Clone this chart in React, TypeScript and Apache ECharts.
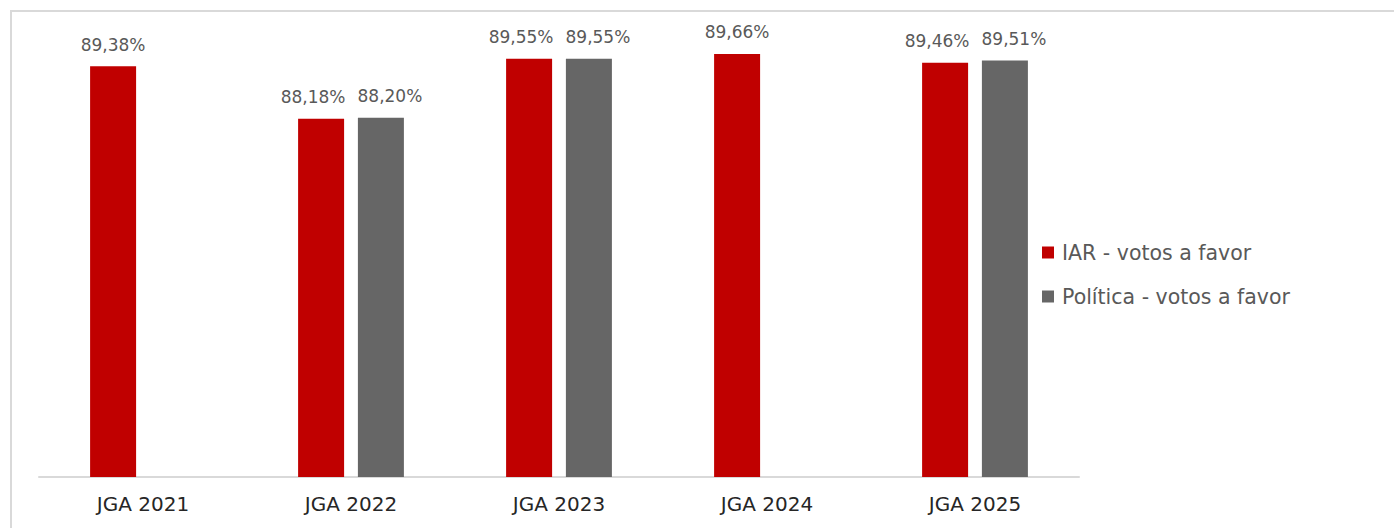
import React, { useEffect, useRef } from "react";
import * as echarts from "echarts";

const categories = ["JGA 2021", "JGA 2022", "JGA 2023", "JGA 2024", "JGA 2025"];
const iarValues: (number | null)[] = [89.38, 88.18, 89.55, 89.66, 89.46];
const politicaValues: (number | null)[] = [null, 88.2, 89.55, null, 89.51];
const seriesNames = ["IAR - votos a favor", "Política - votos a favor"];

const FONT = "'DejaVu Sans', Verdana, sans-serif";

const fmt = (v: number) => v.toFixed(2).replace(".", ",") + "%";

export default function App() {
  const ref = useRef<HTMLDivElement>(null);
  useEffect(() => {
    document.body.style.margin = "0";
    const chart = echarts.init(ref.current!, null, { renderer: "svg" });
    const label = {
      show: true,
      position: "top" as const,
      distance: 13,
      fontFamily: FONT,
      fontSize: 17,
      color: "#595959",
      formatter: (p: any) => (p.value == null ? "" : fmt(p.value)),
    };
    const paired = (i: number) => iarValues[i] != null && politicaValues[i] != null;
    const iarData = iarValues.map((v, i) => ({
      value: v,
      label: { offset: [paired(i) ? -8 : 0, 0] },
    }));
    const polData = politicaValues.map((v, i) => ({
      value: v,
      label: { offset: [paired(i) ? 9 : 0, 0] },
    }));
    chart.setOption({
      animation: false,
      backgroundColor: "#ffffff",
      textStyle: { fontFamily: FONT },
      graphic: [
        {
          type: "rect",
          shape: { x: 11, y: 11, width: 1420, height: 560 },
          style: { fill: "none", stroke: "#d9d9d9", lineWidth: 2 },
          silent: true,
          z: -1,
        },
      ],
      grid: { left: 39, right: 315, top: 39, bottom: 51 },
      legend: {
        orient: "vertical",
        left: 1037,
        top: 236,
        icon: "rect",
        itemWidth: 12,
        itemHeight: 12,
        itemGap: 21,
        textStyle: {
          fontFamily: FONT,
          fontSize: 20.5,
          lineHeight: 23,
          color: "#595959",
          padding: [0, 0, 0, 3],
        },
        data: seriesNames,
      },
      xAxis: {
        type: "category",
        data: categories,
        axisLine: { show: true, lineStyle: { color: "#d9d9d9", width: 2 } },
        axisTick: { show: false },
        axisLabel: { fontFamily: FONT, fontSize: 20, color: "#262626", margin: 17 },
      },
      yAxis: {
        type: "value",
        min: 80,
        max: 90,
        show: false,
        splitLine: { show: false },
      },
      series: [
        {
          name: seriesNames[0],
          type: "bar",
          data: iarData,
          barWidth: 46,
          barGap: "30%",
          itemStyle: { color: "#c00000" },
          label,
        },
        {
          name: seriesNames[1],
          type: "bar",
          data: polData,
          barWidth: 46,
          itemStyle: { color: "#666666" },
          label,
        },
      ],
    });
    return () => chart.dispose();
  }, []);
  return <div ref={ref} style={{ width: 1394, height: 528 }} />;
}
